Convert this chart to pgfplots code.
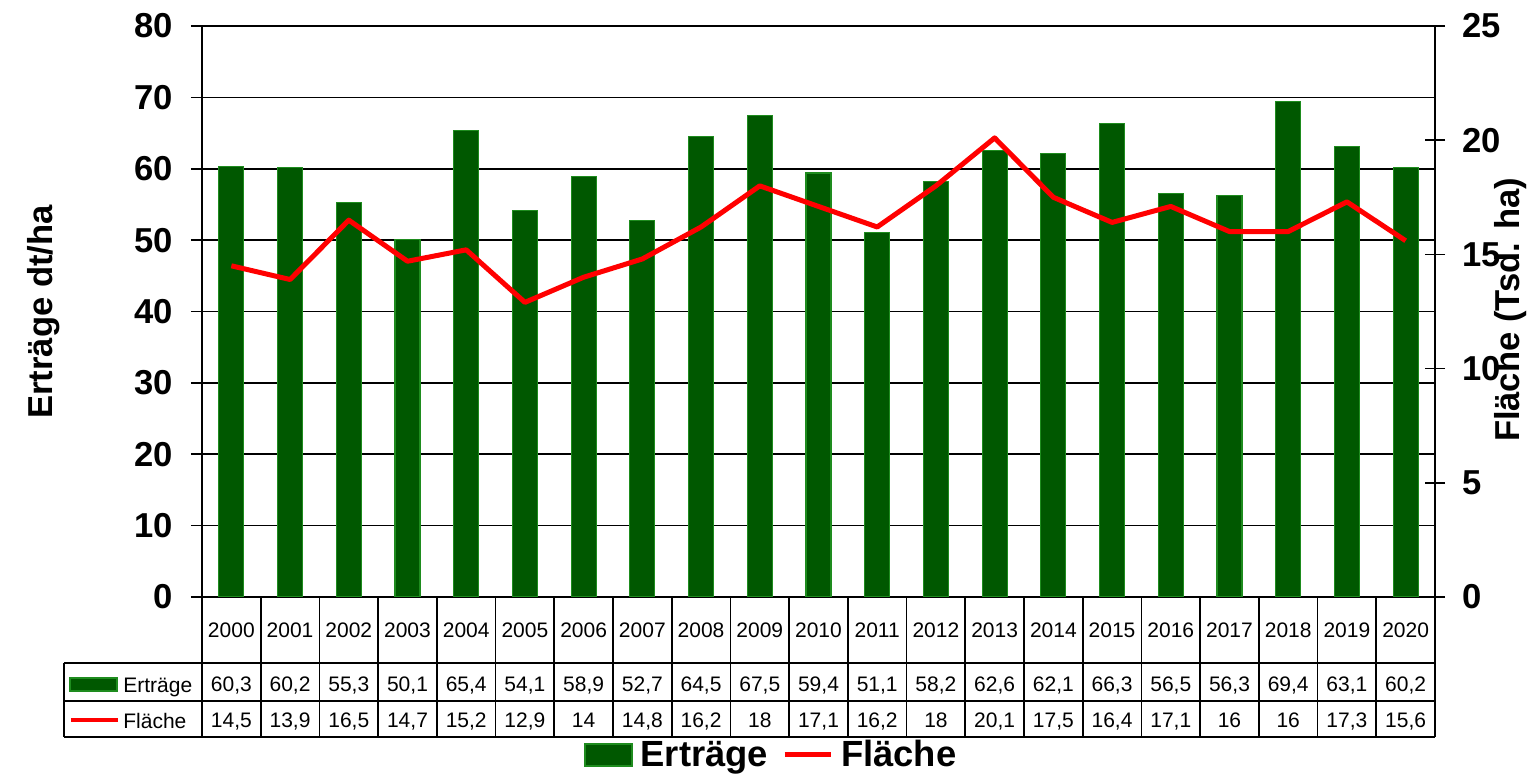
\documentclass[border=0pt]{standalone}
\usepackage{pgfplots}
\pgfplotsset{compat=1.18}
\usepackage{pgfplotstable}
\usepackage{fontspec}
\setmainfont{Liberation Sans}
\definecolor{barfill}{RGB}{0,88,0}
\definecolor{barborder}{RGB}{30,140,30}
\definecolor{linered}{RGB}{255,0,0}

\pgfplotstableread{
x year ertrag flaeche
0 2000 60.3 14.5
1 2001 60.2 13.9
2 2002 55.3 16.5
3 2003 50.1 14.7
4 2004 65.4 15.2
5 2005 54.1 12.9
6 2006 58.9 14.0
7 2007 52.7 14.8
8 2008 64.5 16.2
9 2009 67.5 18.0
10 2010 59.4 17.1
11 2011 51.1 16.2
12 2012 58.2 18.0
13 2013 62.6 20.1
14 2014 62.1 17.5
15 2015 66.3 16.4
16 2016 56.5 17.1
17 2017 56.3 16.0
18 2018 69.4 16.0
19 2019 63.1 17.3
20 2020 60.2 15.6
}\datatable

\newcommand{\bigfont}{\fontsize{17.3}{17.3}\selectfont\bfseries}
\newcommand{\legfont}{\fontsize{18.2}{18.2}\selectfont\bfseries}
\newcommand{\tabfont}{\fontsize{10.5}{10.5}\selectfont}

\pgfplotsset{
  barlegend/.style={legend image code/.code={\draw[##1] (0pt,-5.5pt) rectangle (23.5pt,5.5pt);}},
  linelegend/.style={legend image code/.code={\draw[##1] (0pt,0pt) -- (23pt,0pt);}},
}

\begin{document}
\begin{tikzpicture}
\begin{axis}[
  scale only axis, width=616.5pt, height=285.5pt,
  xmin=-0.5, xmax=20.5, ymin=0, ymax=80,
  axis x line*=bottom, axis y line*=left,
  xtick=\empty,
  ytick={0,10,...,80},
  ymajorgrids,
  grid style={black, line width=0.8pt},
  axis line style={-, black, line width=0.8pt},
  tick style={black, line width=0.8pt},
  tick align=outside, major tick length=5.5pt,
  yticklabel style={font=\bigfont, inner sep=0pt, xshift=-9pt},
  /pgf/number format/assume math mode=true,
]
\addplot[ybar, bar width=12.5pt, fill=barfill, draw=barborder, line width=0.6pt] table[x=x, y=ertrag]{\datatable};
\end{axis}
\begin{axis}[
  scale only axis, width=616.5pt, height=285.5pt,
  xmin=-0.5, xmax=20.5, ymin=0, ymax=25,
  axis y line*=right, axis x line=none,
  ytick={0,5,...,25},
  axis line style={-, black, line width=0.8pt},
  tick style={black, line width=0.8pt},
  tick align=center, major tick length=10pt,
  yticklabel style={font=\bigfont, inner sep=0pt, anchor=west, xshift=8.5pt},
  /pgf/number format/assume math mode=true,
  legend columns=2,
  legend style={at={(axis description cs:0.3098,-0.2767)}, anchor=west, draw=none, fill=none, inner sep=0pt, font=\legfont,
    /tikz/every odd column/.append style={column sep=2pt},
    /tikz/every even column/.append style={column sep=5pt}},
]
\addlegendimage{barlegend, fill=barfill, draw=barborder, line width=0.6pt}
\addlegendentry{Erträge}
\addplot[linered, line width=2.5pt, no marks, line join=round, linelegend] table[x=x, y=flaeche]{\datatable};
\addlegendentry{Fläche}
\end{axis}
\begin{scope}[x=0.5pt, y=-0.5pt, shift={(-202,-597)}]
  \foreach \k in {0,...,21} {\draw[line width=0.8pt] ({202+58.714*\k},597) -- ({202+58.714*\k},737);}
  \draw[line width=0.8pt] (64,663) -- (1435,663) (64,701) -- (1435,701) (64,737) -- (1435,737) (64,663) -- (64,737);
  \foreach \i in {0,...,20} {
    \pgfplotstablegetelem{\i}{year}\of\datatable \let\yr\pgfplotsretval
    \pgfplotstablegetelem{\i}{ertrag}\of\datatable \let\ev\pgfplotsretval
    \pgfplotstablegetelem{\i}{flaeche}\of\datatable \let\fv\pgfplotsretval
    \node[font=\tabfont, text height=7.6pt, text depth=0pt] at ({231.357+58.714*\i},630) {\yr};
    \node[font=\tabfont, text height=7.6pt, text depth=0pt] at ({231.357+58.714*\i},684) {\pgfmathprintnumber[use comma, assume math mode=true]{\ev}};
    \node[font=\tabfont, text height=7.6pt, text depth=0pt] at ({231.357+58.714*\i},720) {\pgfmathprintnumber[use comma, assume math mode=true]{\fv}};
  }
  \draw[fill=barfill, draw=barborder, line width=0.6pt] (70,678) rectangle (117,691);
  \node[font=\tabfont, anchor=west, inner sep=0pt, text height=7.6pt, text depth=0pt] at (123,685) {Erträge};
  \draw[linered, line width=2pt] (71,720) -- (118,720);
  \node[font=\tabfont, anchor=west, inner sep=0pt, text height=7.6pt, text depth=0pt] at (123,721) {Fläche};
  \node[rotate=90, font=\bigfont] at (44,312) {Erträge dt/ha};
  \node[rotate=90, font=\bigfont] at (1511,310) {Fläche (Tsd. ha)};
  \pgfresetboundingbox
  \path[use as bounding box] (0,0) rectangle (1533,774);
\end{scope}
\end{tikzpicture}
\end{document}
